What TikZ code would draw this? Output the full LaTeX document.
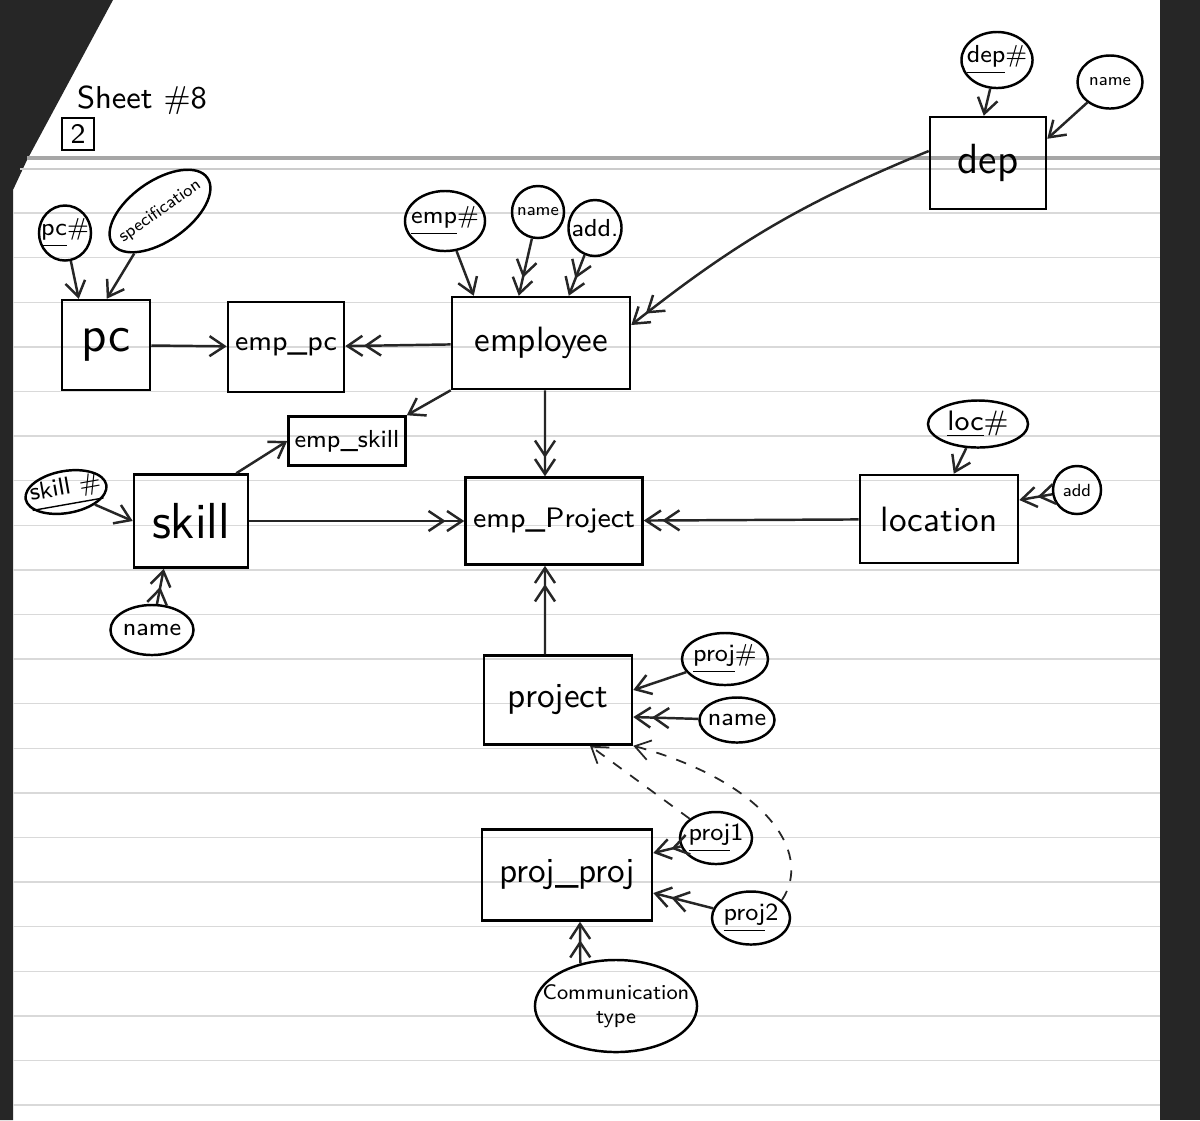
\documentclass[tikz,border=0pt]{standalone}
\usepackage{tikz}
\usetikzlibrary{shapes.geometric,arrows.meta}
\renewcommand{\familydefault}{\sfdefault}

\begin{document}
\begin{tikzpicture}[x=0.01cm,y=-0.01cm,>={Straight Barb[length=1.5mm,width=2mm]}]
	\useasboundingbox (0,0) rectangle (1200,1120);
	\fill[white] (0,0) rectangle (1200,1120);
	\fill[black!85] (0,0) -- (113,0) -- (27,160) -- (13,190) -- (13,1120) -- (0,1120) -- cycle;
	\fill[black!85] (1160,0) rectangle (1200,1120);
	\draw[gray!70,line width=1pt] (27,158) -- (1160,158);
	\draw[gray!40] (20,169) -- (1160,169);
	\foreach \k in {0,...,20}
		\draw[gray!30] (13,213+44.6*\k) -- (1160,213+44.6*\k);

	\node (title) at (142,100) {\small Sheet \#8};
	\node[draw,line width=0.7pt,minimum size=0.32cm,inner sep=0pt] (sheetno) at (78,134) {\footnotesize 2};

	\begin{scope}[every node/.style={rectangle,draw,line width=0.7pt,inner sep=0pt}]
		\node[minimum width=0.88cm,minimum height=0.9cm,font=\Large] (pc) at (106,345) {pc};
		\node[minimum width=1.16cm,minimum height=0.9cm,font=\footnotesize] (emppc) at (286,347) {emp\_pc};
		\node[minimum width=1.78cm,minimum height=0.92cm] (emp) at (541,343) {employee};
		\node[minimum width=1.16cm,minimum height=0.92cm,font=\large] (dep) at (988,163) {dep};
		\node[minimum width=1.17cm,minimum height=0.49cm,font=\scriptsize] (empskill) at (347,441) {emp\_skill};
		\node[minimum width=1.14cm,minimum height=0.93cm,font=\Large] (skill) at (191,521) {skill};
		\node[minimum width=1.77cm,minimum height=0.87cm,font=\footnotesize] (empproj) at (554,521) {emp\_Project};
		\node[minimum width=1.58cm,minimum height=0.88cm] (loc) at (939,519) {location};
		\node[minimum width=1.48cm,minimum height=0.89cm] (proj) at (558,700) {project};
		\node[minimum width=1.70cm,minimum height=0.91cm] (pp) at (567,875) {proj\_proj};
	\end{scope}

	\begin{scope}[every node/.style={ellipse,draw,line width=0.7pt,inner xsep=-2pt,inner ysep=0pt,font=\scriptsize}]
		\node[minimum width=0.52cm,minimum height=0.55cm] (pcno) at (65,233) {\underline{pc}\#};
		\node[minimum width=1.12cm,minimum height=0.6cm,rotate=35,font=\tiny] (spec) at (160,211) {specification};
		\node[minimum width=0.8cm,minimum height=0.6cm] (empno) at (445,221) {\underline{emp}\#};
		\node[minimum width=0.52cm,minimum height=0.52cm,font=\tiny] (empname) at (538,212) {name};
		\node[minimum width=0.53cm,minimum height=0.56cm] (empadd) at (595,228) {add.};
		\node[minimum width=0.71cm,minimum height=0.56cm] (depno) at (997,60) {\underline{dep}\#};
		\node[minimum width=0.65cm,minimum height=0.53cm,font=\tiny] (depname) at (1110,82) {name};
		\node[minimum width=0.78cm,minimum height=0.42cm,rotate=10] (skillno) at (66,492) {\underline{skill \#}};
		\node[minimum width=0.83cm,minimum height=0.5cm] (skillname) at (152,630) {name};
		\node[minimum width=1.0cm,minimum height=0.47cm,font=\footnotesize] (locno) at (978,424) {\underline{loc}\#};
		\node[minimum width=0.48cm,minimum height=0.48cm,font=\tiny] (locadd) at (1077,490) {add};
		\node[minimum width=0.86cm,minimum height=0.52cm] (projno) at (725,659) {\underline{proj}\#};
		\node[minimum width=0.75cm,minimum height=0.45cm] (projname) at (737,720) {name};
		\node[minimum width=0.72cm,minimum height=0.52cm] (pone) at (716,838) {\underline{proj}1};
		\node[minimum width=0.78cm,minimum height=0.53cm] (ptwo) at (751,918) {\underline{proj}2};
		\node[minimum width=1.62cm,minimum height=0.92cm,inner xsep=-8pt,align=center,font=\fontsize{6}{7}\selectfont] (comm) at (616,1006) {Communication\\type};
	\end{scope}

	\begin{scope}[every edge/.style={draw=black!85,line width=0.7pt}]
		\path [->] (pcno) edge ([xshift=0.18cm]pc.north west);
		\path [->] (spec) edge ([xshift=0.46cm]pc.north west);
		\path [->] (pc) edge (emppc);
		\path [->>] (emp) edge (emppc);
		\path [->] (empno) edge ([xshift=0.23cm]emp.north west);
		\path [->>] (empname) edge ([xshift=0.68cm]emp.north west);
		\path [->>] (empadd) edge ([xshift=1.18cm]emp.north west);
		\path [->] (depno) edge ([xshift=0.55cm]dep.north west);
		\path [->] (depname) edge ([yshift=-0.23cm]dep.north east);
		\path [->>] ([yshift=0.12cm]dep.west) edge [bend right=8] ([yshift=0.18cm]emp.east);
		\path [->] (emp.south west) edge (empskill.north east);
		\path [->] ([xshift=-0.13cm]skill.north east) edge (empskill.west);
		\path [->>] ([xshift=0.04cm]emp.south) edge ([xshift=-0.09cm]empproj.north);
		\path [->] (skillno) edge (skill.west);
		\path [->>] (skillname) edge ([xshift=0.31cm]skill.south west);
		\path [->>] (skill) edge (empproj);
		\path [->>] (loc) edge (empproj);
		\path [->] (locno) edge ([xshift=0.95cm]loc.north west);
		\path [->>] (locadd) edge ([yshift=0.19cm]loc.east);
		\path [->>] ([xshift=-0.13cm]proj.north) edge ([xshift=-0.09cm]empproj.south);
		\path [->] (projno) edge ([yshift=0.1cm]proj.east);
		\path [->>] (projname) edge ([yshift=-0.17cm]proj.east);
		\path [->>] (pone) edge ([yshift=0.22cm]pp.east);
		\path [->>] (ptwo) edge ([yshift=-0.18cm]pp.east);
		\path [->>] (comm.130) edge ([xshift=0.13cm]pp.south);
		\path [->] (pone) edge [dashed,line width=0.5pt] ([xshift=0.32cm]proj.south);
	\end{scope}
	\draw [->,dashed,black!85,line width=0.5pt] (ptwo.30) .. controls (815,850) and (760,780) .. (proj.south east);
\end{tikzpicture}
\end{document}
